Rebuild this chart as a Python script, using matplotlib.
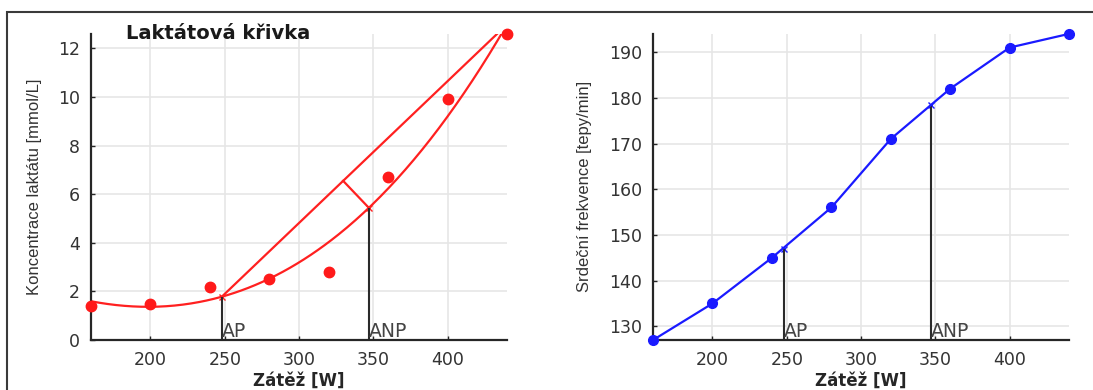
import numpy as np
import matplotlib
matplotlib.use("Agg")
import matplotlib.pyplot as plt
from matplotlib.patches import Rectangle

# data
load = [160, 200, 240, 280, 320, 360, 400, 440]
lactate = [1.4, 1.5, 2.2, 2.5, 2.8, 6.7, 9.9, 12.6]
heart_rate = [127, 135, 145, 156, 171, 182, 191, 194]
ap_load = 248
anp_load = 347
ap_hr = 147
anp_hr = 178.5

plt.rcParams['font.family'] = ['DejaVu Sans']
txt_col = '#333333'
grid_col = '#e6e6e6'
narrow = ['Liberation Sans Narrow', 'Liberation Sans']

fig = plt.figure(figsize=(10.93, 3.9), dpi=100)
fig.patches.append(Rectangle((7 / 1093, -0.1), 1.2, 1 - 12 / 390 + 0.1, transform=fig.transFigure,
                             fill=False, edgecolor='#3a3a3a', linewidth=1.5))

ax1 = fig.add_axes([0.0833, 0.1282, 0.3806, 0.785])
ax2 = fig.add_axes([0.5975, 0.1282, 0.3806, 0.785])


def style(ax):
    for s in ['top', 'right']:
        ax.spines[s].set_visible(False)
    for s in ['left', 'bottom']:
        ax.spines[s].set_linewidth(1.6)
        ax.spines[s].set_color('#262626')
    ax.grid(True, color=grid_col, linewidth=1.2)
    ax.set_axisbelow(True)
    ax.tick_params(direction='in', length=3, width=1, colors='#262626', labelsize=12.5, labelcolor=txt_col)
    ax.tick_params(axis='x', pad=8)
    ax.tick_params(axis='y', pad=8)
    ax.set_xlim(160, 440)
    ax.set_xticks([200, 250, 300, 350, 400])
    ax.set_xlabel('Zátěž [W]', fontsize=12, fontweight='bold', color='#262626', labelpad=2)


# lactate curve (cubic fit of the measured points)
coef = np.polyfit(load, lactate, 3)
xs = np.linspace(160, 440, 300)
fit = np.polyval(coef, xs)
ap_lac = np.polyval(coef, ap_load)
anp_lac = np.polyval(coef, anp_load)
end_x = 440
end_y = np.polyval(coef, end_x)

style(ax1)
ax1.set_ylim(0, 12.6)
ax1.set_yticks([0, 2, 4, 6, 8, 10, 12])
ax1.plot(xs, fit, color='#ff2020', linewidth=1.6)
ax1.plot([ap_load, end_x], [ap_lac, end_y], color='#ff2020', linewidth=1.6)
# perpendicular foot (in display-normalised units)
sx, sy = 416 / 280, 306 / 12.6
p0 = np.array([ap_load * sx, ap_lac * sy])
p1 = np.array([end_x * sx, end_y * sy])
q = np.array([anp_load * sx, anp_lac * sy])
d = (p1 - p0) / np.linalg.norm(p1 - p0)
foot = p0 + np.dot(q - p0, d) * d
ax1.plot([foot[0] / sx, anp_load], [foot[1] / sy, anp_lac], color='#ff2020', linewidth=1.6)
ax1.plot(load, lactate, 'o', color='#ff1a1a', markersize=7.5, clip_on=False, zorder=5)
ax1.plot([ap_load, anp_load], [ap_lac, anp_lac], 'x', color='#ff2020', markersize=4)
ax1.vlines([ap_load, anp_load], 0, [ap_lac, anp_lac], color='#2a2a2a', linewidth=1.5)
ax1.text(ap_load, 0.12, 'AP', fontsize=13.5, color='#444444', ha='left', va='baseline')
ax1.text(anp_load, 0.12, 'ANP', fontsize=13.5, color='#444444', ha='left', va='baseline')
ax1.set_ylabel('Koncentrace laktátu [mmol/L]', fontsize=12, color=txt_col, family=narrow)
ax1.yaxis.set_label_coords(-0.118, 0.5)
fig.text(0.1153, 0.913, 'Laktátová křivka', fontsize=14, fontweight='bold', color='#1a1a1a', va='center')

# heart rate
style(ax2)
ax2.set_ylim(127, 194)
ax2.set_yticks([130, 140, 150, 160, 170, 180, 190])
ax2.plot(load, heart_rate, '-o', color='#1a1aff', linewidth=1.6, markersize=7, clip_on=False, zorder=5)
ax2.plot([ap_load, anp_load], [ap_hr, anp_hr], 'x', color='#1a1aff', markersize=4)
ax2.vlines([ap_load, anp_load], 127, [ap_hr, anp_hr], color='#2a2a2a', linewidth=1.5)
ax2.text(ap_load, 127.6, 'AP', fontsize=13.5, color='#444444', ha='left', va='baseline')
ax2.text(anp_load, 127.6, 'ANP', fontsize=13.5, color='#444444', ha='left', va='baseline')
ax2.set_ylabel('Srdeční frekvence [tepy/min]', fontsize=12, color=txt_col, family=narrow)
ax2.yaxis.set_label_coords(-0.148, 0.5)

fig.savefig('out.png', dpi=100)
